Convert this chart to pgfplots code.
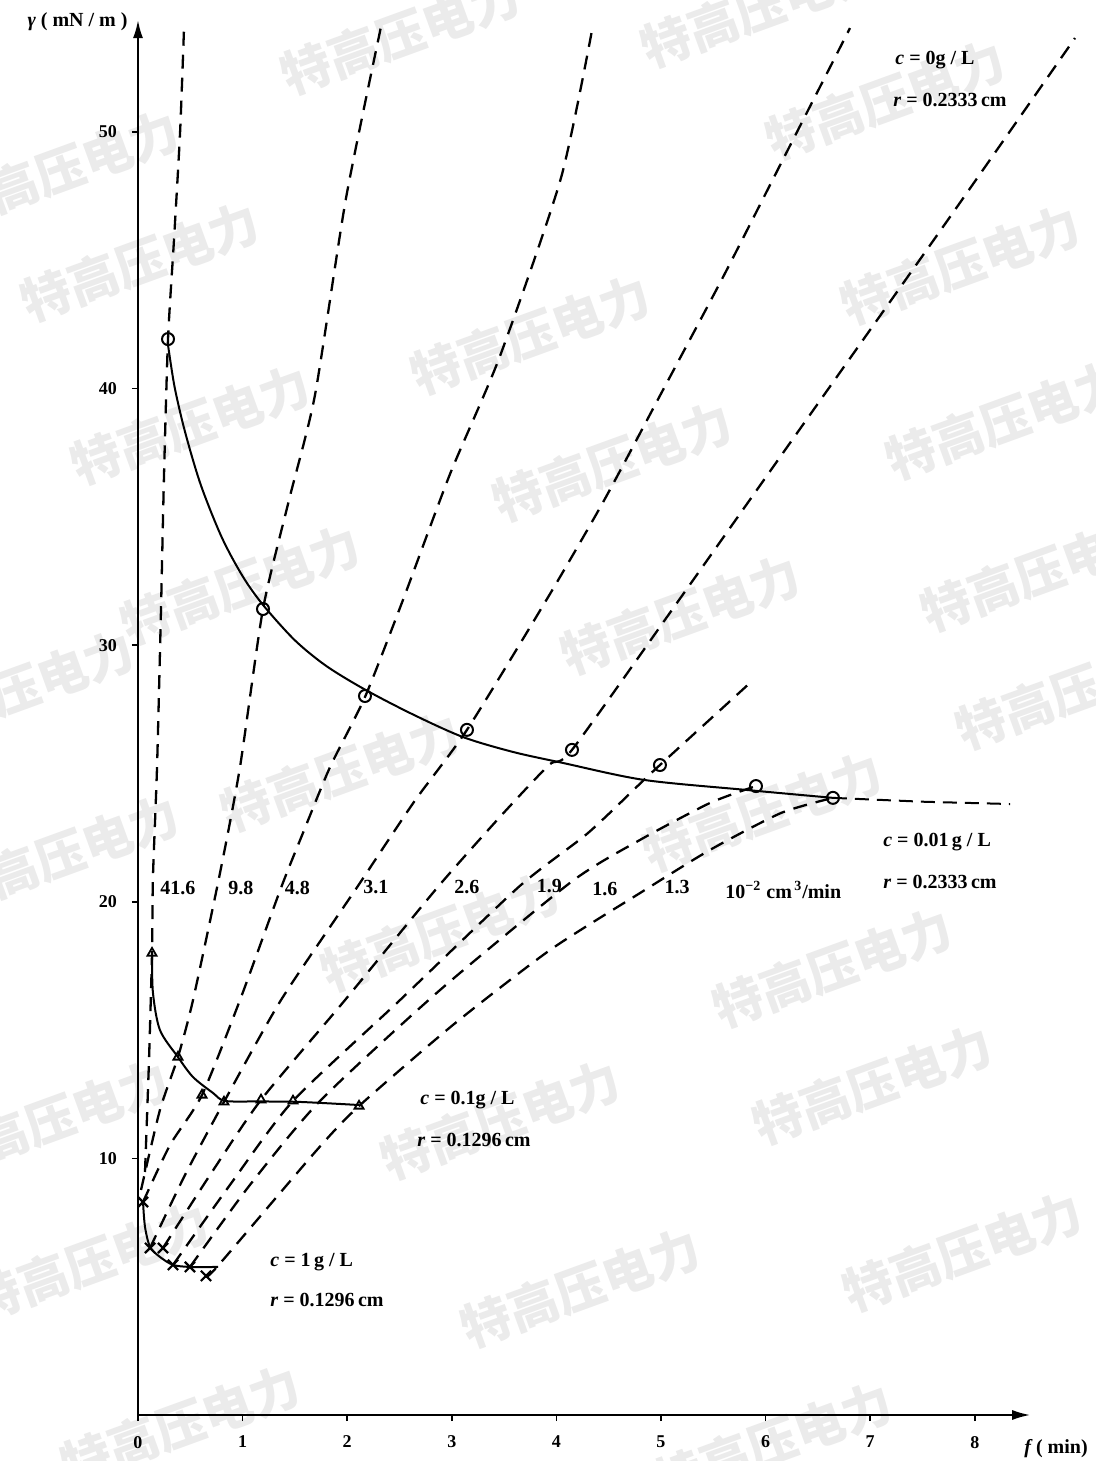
\documentclass[border=0pt]{standalone}
\usepackage{fontspec}
\setmainfont{Liberation Serif}
\newfontfamily\cjk{Noto Sans CJK SC}
\usepackage{pgfplots}
\pgfplotsset{compat=1.18}
\usetikzlibrary{arrows.meta}

\begin{document}
\begin{tikzpicture}
\useasboundingbox (-69pt,-23pt) rectangle (479pt,707.5pt);

% watermark, positions in pixels of the scan
\begin{scope}[x=1pt,y=1pt]
\foreach \px/\py in {400/35, 760/8, 885/100, 60/170, 140/262, 530/335, 960/265,
  190/425, 612/462, 1005/420, 240/585, 680/615, 1040/572, 15/690, 340/772,
  762/812, 1075/690, 60/855, 440/932, 832/968, 50/1120, 500/1120, 872/1085,
  90/1262, 580/1288, 962/1252, 180/1425, 772/1442}{
  \node[text=black!8, rotate=20, font=\cjk\bfseries\fontsize{25}{25}\selectfont]
    at ({(\px-138)*0.5},{(1415-\py)*0.5}) {特高压电力};
}
\end{scope}

\begin{axis}[
  x=52.3pt, y=12.83pt,
  xmin=0, xmax=8.53, ymin=0, ymax=54.36,
  axis lines=left,
  axis line style={line width=1pt, -{Latex[length=9pt,width=5pt]}},
  clip=false,
  xtick={0,...,8}, ytick={10,20,30,40,50},
  tick align=outside, major tick length=3pt,
  tick style={black, line width=0.8pt},
  ticklabel style={font=\bfseries\fontsize{9}{10}\selectfont},
  /pgf/number format/assume math mode=true,
  xticklabel style={yshift=-4pt},
  yticklabel style={xshift=-4pt},
]

% lines of constant flow rate (10^-2 cm^3/min)
\pgfplotsset{flow/.style={black, line width=1.15pt, dash pattern=on 7pt off 4.5pt, smooth, tension=0.4}}
% 41.6
\addplot[flow] coordinates {(0.067,9.47) (0.105,13.8) (0.134,18.00) (0.143,20.97)
  (0.182,25.25) (0.220,31.41) (0.249,36.67) (0.287,41.93) (0.344,45.79) (0.402,49.96) (0.440,54.05)};
% 9.8
\addplot[flow] coordinates {(0.029,8.77) (0.210,11.89) (0.382,13.95) (0.526,16.17)
  (0.784,21.12) (0.975,25.25) (1.195,31.41) (1.444,35.66) (1.692,39.75) (1.989,47.43) (2.333,54.29)};
% 4.8
\addplot[flow] coordinates {(0.048,8.30) (0.306,10.52) (0.612,12.47) (0.975,16.17)
  (1.367,20.54) (1.577,22.68) (1.836,25.25) (2.170,27.98) (2.533,31.76) (2.983,36.67)
  (3.461,41.27) (4.044,48.21) (4.350,54.17)};
% 3.1
\addplot[flow] coordinates {(0.115,6.51) (0.449,9.35) (0.822,12.20) (1.367,16.17)
  (2.090,20.54) (2.640,23.90) (3.145,26.70) (3.910,31.80) (4.450,35.60) (5.000,39.80)
  (5.600,44.40) (6.200,49.20) (6.807,54.05)};
% 2.6
\addplot[flow] coordinates {(0.239,6.51) (0.688,9.35) (1.176,12.28) (1.979,16.17)
  (2.859,20.54) (3.461,23.31) (3.929,25.33) (4.149,25.92) (5.172,31.76) (6.329,38.43)
  (7.763,46.69) (8.958,53.66)};
% 1.9
\addplot[flow] coordinates {(0.335,5.85) (0.880,8.97) (1.482,12.24) (2.505,16.17)
  (3.640,20.58) (4.302,22.68) (4.837,24.75) (4.990,25.33) (5.851,28.53)};
% 1.6
\addplot[flow] coordinates {(0.497,5.77) (1.071,8.97) (1.740,12.24) (2.887,16.56)
  (4.150,20.80) (4.799,22.41) (5.468,23.85) (5.908,24.51)};
% 1.3
\addplot[flow] coordinates {(0.650,5.42) (0.755,5.77) (1.711,10.33) (2.113,12.04)
  (3.011,15.20) (3.939,18.12) (4.799,20.34) (5.468,22.02) (6.147,23.46) (6.644,24.05)};

% c = 0.01 g/L, r = 0.2333 cm
\addplot[black, line width=1pt, smooth, tension=0.5] coordinates {(0.287,41.70) (0.350,40.06)
  (0.450,38.31) (0.600,36.25) (0.800,34.21) (1.000,32.69) (1.195,31.57) (1.500,30.19)
  (1.800,29.19) (2.170,28.27) (2.629,27.30) (3.107,26.42) (3.585,25.84) (4.063,25.41)
  (4.837,24.75) (5.813,24.36) (6.644,24.05)};
\addplot[black, line width=1pt, dash pattern=on 7pt off 4pt] coordinates {(6.644,24.05) (7.5,23.9) (8.337,23.81)};
\addplot[only marks, mark=o, mark size=3pt, mark options={line width=1pt, fill=white}] coordinates {
  (0.287,41.93) (1.195,31.41) (2.170,28.02) (3.145,26.70) (4.149,25.92) (4.990,25.33) (5.908,24.51) (6.644,24.05)};

% c = 0.1 g/L, r = 0.1296 cm
\addplot[black, line width=1pt, smooth, tension=0.5] coordinates {(0.134,18.00) (0.143,16.45)
  (0.210,15.00) (0.382,13.95) (0.526,13.17) (0.717,12.55) (0.832,12.24) (1.166,12.22)
  (1.549,12.20) (2.113,12.08)};
\addplot[only marks, mark=triangle, mark size=2.6pt, mark options={line width=0.9pt, fill=white}] coordinates {
  (0.134,18.00) (0.382,13.95) (0.612,12.47) (0.822,12.20) (1.176,12.28) (1.482,12.24) (2.113,12.04)};

% c = 1 g/L, r = 0.1296 cm
\addplot[black, line width=1pt, smooth, tension=0.5] coordinates {(0.048,8.30) (0.067,7.33)
  (0.115,6.55) (0.210,6.16) (0.335,5.85) (0.497,5.77) (0.765,5.77)};
\addplot[only marks, mark=x, mark size=3.6pt, mark options={line width=1.1pt}] coordinates {
  (0.048,8.30) (0.115,6.51) (0.239,6.51) (0.335,5.85) (0.497,5.77) (0.650,5.42)};

% annotations
\begin{scope}[every node/.style={anchor=west, font=\bfseries, inner sep=0pt}]
\node at (axis cs:7.237,52.81) {\textit{c} = 0g / L};
\node at (axis cs:7.218,51.25) {\textit{r} = 0.2333\,cm};
\node at (axis cs:7.122,22.33) {\textit{c} = 0.01\,g / L};
\node at (axis cs:7.122,20.77) {\textit{r} = 0.2333\,cm};
\node at (axis cs:2.696,12.28) {\textit{c} = 0.1g / L};
\node at (axis cs:2.667,10.72) {\textit{r} = 0.1296\,cm};
\node at (axis cs:1.262,5.96) {\textit{c} = 1\,g / L};
\node at (axis cs:1.262,4.48) {\textit{r} = 0.1296\,cm};
\node at (axis cs:0.210,20.54) {41.6};
\node at (axis cs:0.860,20.54) {9.8};
\node at (axis cs:1.400,20.54) {4.8};
\node at (axis cs:2.150,20.58) {3.1};
\node at (axis cs:3.020,20.58) {2.6};
\node at (axis cs:3.810,20.62) {1.9};
\node at (axis cs:4.340,20.50) {1.6};
\node at (axis cs:5.030,20.58) {1.3};
\node at (axis cs:5.612,20.46) {10\textsuperscript{−2} cm\textsuperscript{\,3}/min};
\end{scope}
\node[anchor=east, font=\bfseries, inner sep=0pt] at (axis cs:-0.096,54.29) {\textit{γ} ( mN / m )};
\node[anchor=west, font=\bfseries, inner sep=0pt] at (axis cs:8.47,-1.29) {\textit{f}\,( min)};
\end{axis}
\end{tikzpicture}
\end{document}
